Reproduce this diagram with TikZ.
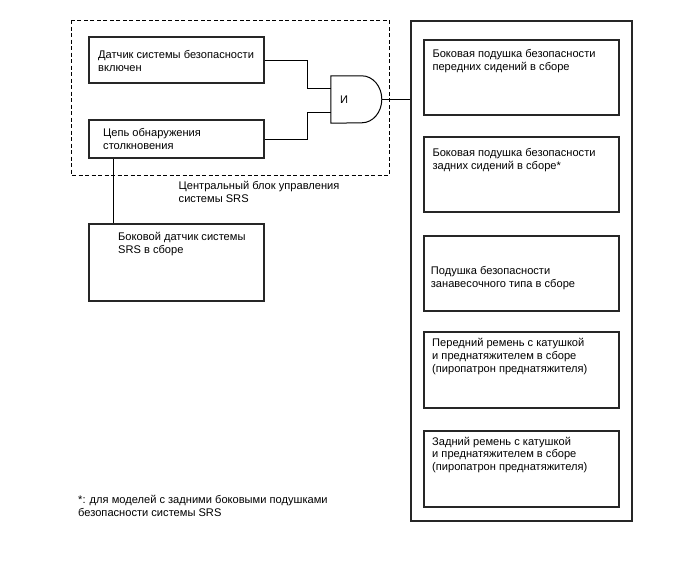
\documentclass[tikz,border=0pt]{standalone}
\usepackage{fontspec}
\setmainfont{Liberation Sans}
\usetikzlibrary{calc}
\begin{document}
\begin{tikzpicture}[x=1pt,y=-1pt,
  box/.style={draw=black!85,line width=1.1pt,inner sep=0,minimum width=#1},
  box/.default=175pt,
  wire/.style={draw=black,line width=0.9pt},
  txt/.style={anchor=base west,inner sep=0,align=left,font=\fontsize{11.1}{12.6}\selectfont},
  dashbox/.style={draw=black,line width=0.9pt,dash pattern=on 4pt off 2.5pt}]
\useasboundingbox (0,0) rectangle (688,560);
% dashed control unit
\draw[dashbox] (71,20) rectangle (389,175);
% left boxes
\node[box,minimum height=46pt] (b1) at (176.5,60) {};
\node[box,minimum height=38pt] (b2) at (176.5,139) {};
\node[box,minimum height=77pt] (b3) at (176.5,262.5) {};
% text anchors are at the baseline of the LAST line
\node[txt] (t1) at (98,71) {Датчик системы безопасности\\включен};
\node[txt] (t2) at (103,149) {Цепь обнаружения\\столкновения};
\node[txt] (t3) at (118,253) {Боковой датчик системы\\SRS в сборе};
\node[txt] (tc) at (178.5,202) {Центральный блок управления\\системы SRS};
% AND gate
\node[inner sep=0,minimum width=51pt,minimum height=47pt] (gate) at (356.5,99.5) {};
\draw[line width=1pt] (gate.north west) -- ++(31,0)
  arc[start angle=90,end angle=-90,x radius=20pt,y radius=23.5pt]
  -- (gate.south west) -- cycle;
\node[inner sep=0,font=\fontsize{11.1}{12.6}\selectfont] (andlbl) at (344,100) {И};
% right group
\node[box=221pt,minimum height=500pt] (big) at (521.5,271) {};
\node[box=195pt,minimum height=75pt] (ra) at (521.5,77.5) {};
\node[box=195pt,minimum height=75pt] (rb) at (521.5,174.5) {};
\node[box=195pt,minimum height=75pt] (rc) at (521.5,273.5) {};
\node[box=195pt,minimum height=76pt] (rd) at (521.5,370) {};
\node[box=195pt,minimum height=76pt] (re) at (521.5,469) {};
\node[txt] (ta) at (432.3,70.5) {Боковая подушка безопасности\\передних сидений в сборе};
\node[txt] (tb) at (432.3,169.3) {Боковая подушка безопасности\\задних сидений в сборе*};
\node[txt] (tcc) at (430.7,287.5) {Подушка безопасности\\занавесочного типа в сборе};
\node[txt] (td) at (432,372) {Передний ремень с катушкой\\и преднатяжителем в сборе\\(пиропатрон преднатяжителя)};
\node[txt] (te) at (432,470.5) {Задний ремень с катушкой\\и преднатяжителем в сборе\\(пиропатрон преднатяжителя)};
\node[txt] (fn) at (78,516) {*: для моделей с задними боковыми подушками\\безопасности системы SRS};
% wires
\draw[wire] (b1.east) -- ++(43,0) |- ([yshift=11.5pt]gate.west);
\draw[wire] (b2.east) -- ++(43,0) |- ([yshift=-12.5pt]gate.west);
\draw[wire] (gate.east) -- (gate.east -| big.west);
\draw[wire] ([xshift=25pt]b2.south west) -- ([xshift=25pt]b3.north west);
\end{tikzpicture}
\end{document}
